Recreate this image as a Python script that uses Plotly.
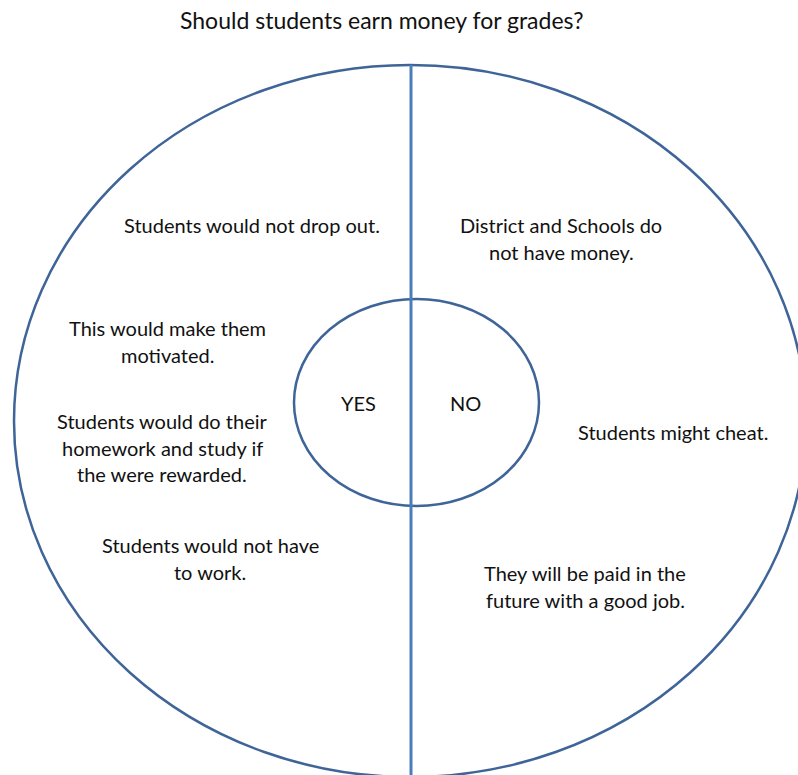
import plotly.graph_objects as go

W, H = 798, 775

title_text = "Should students earn money for grades?"

# outer ellipse bounds (pixel-space axes)
outer_box = [14, 65, 806, 777]
inner_box = [294, 299, 539, 506]
divider_x = 411
divider_y = [65, 780]

# text blocks: lines, center x, first-line y
blocks = [
    (["Students would not drop out."], 252, 225),
    (["District and Schools do", "not have money."], 561, 225),
    (["This would make them", "motivated."], 167, 328),
    (["YES"], 358, 403),
    (["NO"], 465, 403),
    (["Students would do their", "homework and study if", "the were rewarded."], 162, 421),
    (["Students might cheat."], 673, 432),
    (["Students would not have", "to work."], 210, 545),
    (["They will be paid in the", "future with a good job."], 585, 573),
]
line_gap = 26.5

FONT = "Lato"
fig = go.Figure()

fig.add_shape(type="circle", xref="x", yref="y",
              x0=outer_box[0], y0=outer_box[1], x1=outer_box[2], y1=outer_box[3],
              line=dict(color="#3E6498", width=2.5))
fig.add_shape(type="circle", xref="x", yref="y",
              x0=inner_box[0], y0=inner_box[1], x1=inner_box[2], y1=inner_box[3],
              line=dict(color="#3E6498", width=2.5))
fig.add_shape(type="line", xref="x", yref="y",
              x0=divider_x, y0=divider_y[0], x1=divider_x, y1=divider_y[1],
              line=dict(color="#4A7EBB", width=3))

fig.add_annotation(x=382, y=20, xref="x", yref="y", text=title_text, showarrow=False,
                   font=dict(family=FONT, size=23, color="#111111"))

for lines, cx, y0 in blocks:
    for i, ln in enumerate(lines):
        fig.add_annotation(x=cx, y=y0 + i * line_gap, xref="x", yref="y", text=ln,
                           showarrow=False, font=dict(family=FONT, size=20, color="#111111"))

fig.update_layout(
    width=W, height=H, margin=dict(l=0, r=0, t=0, b=0),
    paper_bgcolor="white", plot_bgcolor="white", showlegend=False,
    xaxis=dict(range=[0, W], visible=False, fixedrange=True),
    yaxis=dict(range=[H, 0], visible=False, fixedrange=True),
)
fig.write_html("out.html", config={"displayModeBar": False},
               post_script="document.body.style.margin='0';document.body.style.overflow='hidden';")
